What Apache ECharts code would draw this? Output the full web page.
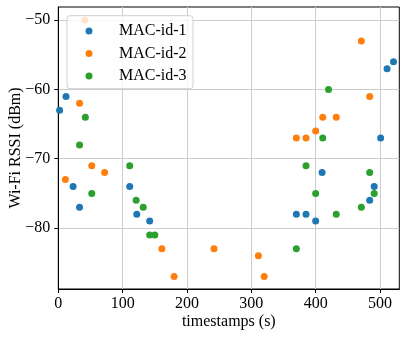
<!DOCTYPE html>
<html>
<head>
<meta charset="utf-8">
<script src="https://cdn.jsdelivr.net/npm/echarts@6/dist/echarts.min.js"></script>
<style>
  html, body { margin: 0; padding: 0; background: #fff; }
  #main { width: 407px; height: 338px; }
</style>
</head>
<body>
<div id="main"></div>
<script>
// timestamps (s) and RSSI (dBm) for every MAC id
const mac1Time = [2, 12, 23, 33, 111, 122, 142, 370, 385, 400, 410, 484, 491, 501, 511, 521]
const mac1Rssi = [-63, -61, -74, -77, -74, -78, -79, -78, -78, -79, -72, -76, -74, -67, -57, -56]

const mac2Time = [11, 33, 41, 52, 72, 161, 180, 242, 311, 320, 370, 385, 400, 411, 432, 471, 484]
const mac2Rssi = [-73, -62, -50, -71, -72, -83, -87, -83, -84, -87, -67, -67, -66, -64, -64, -53, -61]

const mac3Time = [33, 42, 52, 111, 121, 132, 142, 150, 370, 385, 400, 411, 420, 432, 471, 484, 491]
const mac3Rssi = [-68, -64, -75, -71, -76, -77, -81, -81, -83, -71, -75, -67, -60, -78, -77, -72, -75]

const seriesNames = ['MAC-id-1', 'MAC-id-2', 'MAC-id-3']
const xTicks = [0, 100, 200, 300, 400, 500]
const yTicks = [-80, -70, -60, -50]

const colors = ['#1f77b4', '#ff7f0e', '#2ca02c']
const font = 'Liberation Serif'

const chart = echarts.init(document.getElementById('main'))

const pairs = (xs, ys) => xs.map((x, i) => [x, ys[i]])
const minus = v => (v < 0 ? '\u2212' + Math.abs(v) : String(v))

const series = [
  pairs(mac1Time, mac1Rssi),
  pairs(mac2Time, mac2Rssi),
  pairs(mac3Time, mac3Rssi)
].map((data, i) => ({
  name: seriesNames[i],
  type: 'scatter',
  data,
  symbolSize: 7,
  clip: true,
  z: 2,
  itemStyle: { color: colors[i], opacity: 1 }
}))

const option = {
  animation: false,
  backgroundColor: '#fff',
  textStyle: { fontFamily: font },
  grid: {
    left: 58.3,
    right: 7.7,
    top: 7,
    bottom: 49,
    containLabel: false,
    outerBoundsMode: 'none',
    show: true,
    borderColor: '#000',
    borderWidth: 1,
    backgroundColor: 'transparent'
  },
  // legend frame, semi transparent like matplotlib (sits over the points)
  graphic: [{
    type: 'rect',
    zlevel: 1,
    z: 90,
    silent: true,
    shape: { x: 67, y: 15.7, width: 126, height: 73, r: 3 },
    style: { fill: 'rgba(255,255,255,0.8)', stroke: '#d0d0d0', lineWidth: 1 }
  }],
  legend: {
    data: seriesNames,
    zlevel: 1,
    z: 100,
    orient: 'vertical',
    left: 67,
    top: 15.7,
    icon: 'circle',
    itemWidth: 7,
    itemHeight: 7,
    itemGap: 6.5,
    padding: [7.3, 7, 5, 18.5],
    textStyle: {
      fontFamily: font,
      fontSize: 16,
      lineHeight: 16,
      color: '#000',
      padding: [0, 0, 0, 21.5]
    }
  },
  xAxis: {
    type: 'value',
    min: 0,
    max: 530,
    name: 'timestamps (s)',
    nameLocation: 'middle',
    nameGap: 25,
    nameMoveOverlap: false,
    nameTextStyle: { fontFamily: font, fontSize: 16, color: '#000' },
    axisLine: { onZero: false, lineStyle: { color: '#000', width: 1 } },
    axisTick: { show: true, length: 4, customValues: xTicks, lineStyle: { color: '#000' } },
    axisLabel: { customValues: xTicks, margin: 7, fontFamily: font, fontSize: 16, color: '#000' },
    splitLine: { show: true, lineStyle: { color: '#cccccc', width: 1 } }
  },
  yAxis: {
    type: 'value',
    min: -88.8,
    max: -48.1,
    name: 'Wi-Fi RSSI (dBm)',
    nameLocation: 'middle',
    nameGap: 35,
    nameMoveOverlap: false,
    nameTextStyle: { fontFamily: font, fontSize: 16, color: '#000' },
    axisLine: { show: true, onZero: false, lineStyle: { color: '#000', width: 1 } },
    axisTick: { show: true, length: 4, customValues: yTicks, lineStyle: { color: '#000' } },
    axisLabel: { customValues: yTicks, margin: 8, fontFamily: font, fontSize: 16, color: '#000', formatter: minus },
    splitLine: { show: true, lineStyle: { color: '#cccccc', width: 1 } }
  },
  series
}

chart.setOption(option)
</script>
</body>
</html>
